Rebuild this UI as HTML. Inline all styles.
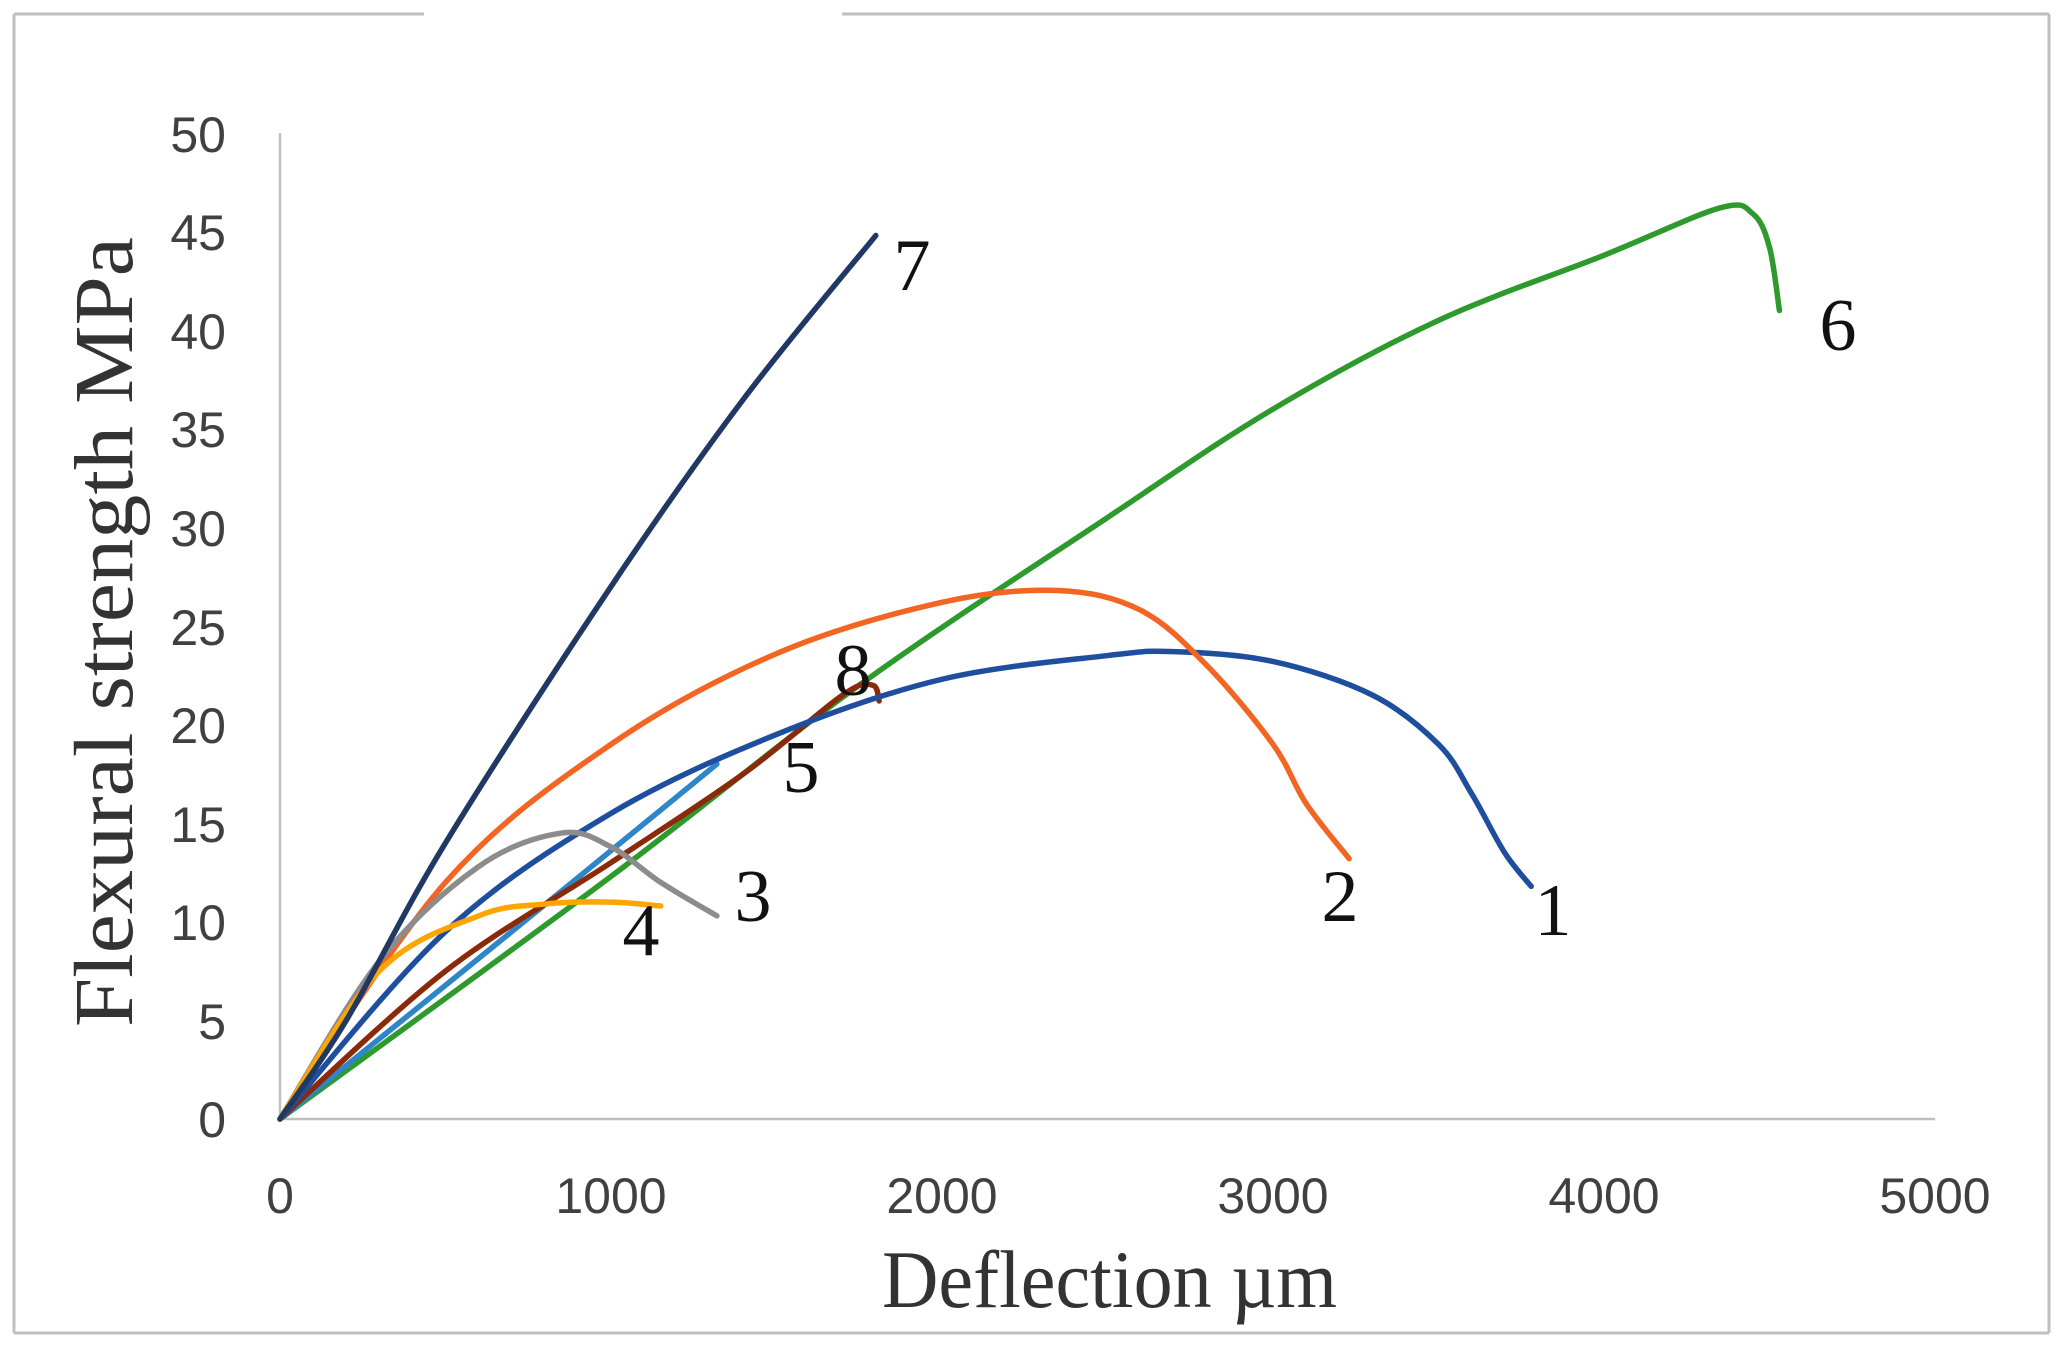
<!DOCTYPE html>
<html><head><meta charset="utf-8"><style>
html,body{margin:0;padding:0;background:#fff;}
svg{display:block;}
</style></head><body>
<svg id="c" width="2064" height="1349" viewBox="0 0 2064 1349" xmlns="http://www.w3.org/2000/svg">
<rect width="2064" height="1349" fill="#fff"/>
<g stroke="#bfbfbf" stroke-width="3" fill="none">
<line x1="14" y1="14" x2="14" y2="1333"/>
<line x1="2049" y1="14" x2="2049" y2="1333"/>
<line x1="14" y1="1333" x2="2049" y2="1333"/>
<line x1="14" y1="14" x2="424" y2="14"/>
<line x1="842" y1="14" x2="2049" y2="14"/>
</g>
<g stroke="#bfbfbf" stroke-width="2.5">
<line x1="280" y1="133" x2="280" y2="1119"/>
<line x1="280" y1="1119" x2="1935" y2="1119"/>
</g>
<g font-family="Liberation Sans, sans-serif" font-size="50" fill="#404040" text-anchor="end">
<text x="226" y="1137">0</text><text x="226" y="1039">5</text><text x="226" y="940">10</text>
<text x="226" y="842">15</text><text x="226" y="743">20</text><text x="226" y="645">25</text>
<text x="226" y="546">30</text><text x="226" y="447">35</text><text x="226" y="349">40</text>
<text x="226" y="250">45</text><text x="226" y="152">50</text>
</g>
<g font-family="Liberation Sans, sans-serif" font-size="50" fill="#404040" text-anchor="middle">
<text x="280" y="1213">0</text><text x="611" y="1213">1000</text><text x="942" y="1213">2000</text>
<text x="1273" y="1213">3000</text><text x="1604" y="1213">4000</text><text x="1935" y="1213">5000</text>
</g>
<text x="882" y="1307" textLength="455" lengthAdjust="spacingAndGlyphs" font-family="Liberation Serif, serif" font-size="82" fill="#333">Deflection µm</text>
<text transform="translate(132,1027) rotate(-90)" textLength="790" lengthAdjust="spacingAndGlyphs" font-family="Liberation Serif, serif" font-size="84" fill="#333">Flexural strength MPa</text>
<g id="curves" fill="none" stroke-width="5.5" stroke-linecap="round" stroke-linejoin="round"></g>
<g font-family="Liberation Serif, serif" font-size="74" fill="#111" text-anchor="middle">
<text x="912" y="290">7</text><text x="1838" y="350">6</text><text x="853" y="695">8</text>
<text x="801" y="792">5</text><text x="753" y="921">3</text><text x="641" y="955">4</text>
<text x="1340" y="921">2</text><text x="1553" y="935">1</text>
</g>
</svg>
<script>
function X(x){return 280+x*0.331}
function Y(y){return 1119-y*19.72}
function path(pts){
 var p=pts.map(function(a){return [X(a[0]),Y(a[1])]});
 var d="M"+p[0][0]+","+p[0][1];
 for(var i=0;i<p.length-1;i++){
  var p0=p[i-1]||p[i],p1=p[i],p2=p[i+1],p3=p[i+2]||p2;
  var c1=[p1[0]+(p2[0]-p0[0])/6,p1[1]+(p2[1]-p0[1])/6];
  var c2=[p2[0]-(p3[0]-p1[0])/6,p2[1]-(p3[1]-p1[1])/6];
  d+=" C"+c1+" "+c2+" "+p2;
 }
 return d;
}
var S=[
["#2e9a2e",[[0,0],[1000,12.3],[1750,22],[2500,30.5],[3000,36],[3500,40.5],[4000,43.8],[4350,46.2],[4450,45.9],[4500,44.2],[4530,41]]],
["#2e86c8",[[0,0],[700,9.5],[1320,18]]],
["#8b2a0a",[[0,0],[500,7.5],[1000,13],[1400,17.5],[1700,21.5],[1790,22],[1810,21.2]]],
["#1f4e9f",[[0,0],[500,9.5],[1000,15.5],[1500,19.5],[2000,22.3],[2500,23.5],[2700,23.7],[3000,23.2],[3300,21.5],[3500,19],[3600,16.5],[3700,13.5],[3780,11.8]]],
["#f26522",[[0,0],[500,12],[1000,19],[1500,23.6],[2000,26.2],[2350,26.8],[2600,25.8],[2800,23],[3000,19],[3100,16],[3230,13.2]]],
["#8c8c8c",[[0,0],[300,8],[600,12.8],[850,14.5],[1000,13.8],[1150,12],[1320,10.3]]],
["#ffa500",[[0,0],[300,7.5],[600,10.3],[800,10.9],[1000,11],[1150,10.8]]],
["#1f3864",[[0,0],[200,5],[500,14],[1000,27],[1400,36.5],[1800,44.8]]]
];
var g=document.getElementById("curves"),h="";
S.forEach(function(s){h+='<path stroke="'+s[0]+'" d="'+path(s[1])+'"/>'});
g.innerHTML=h;
</script>
</body></html>
